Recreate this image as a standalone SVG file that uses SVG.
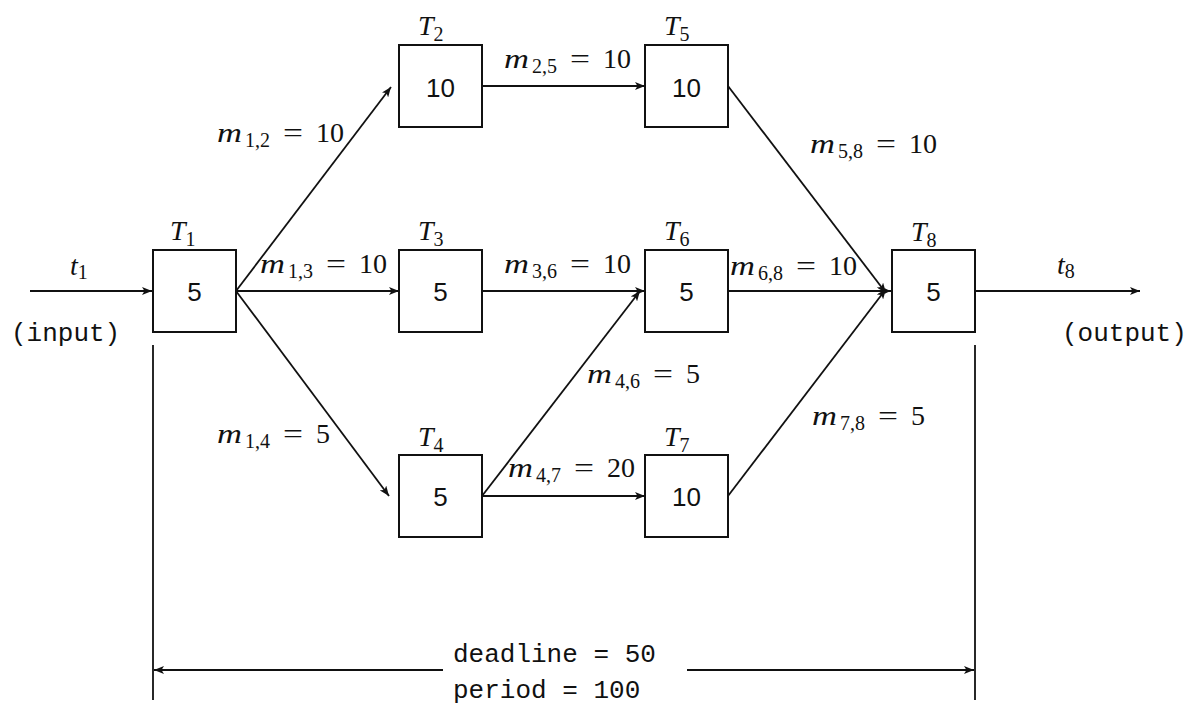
<svg xmlns="http://www.w3.org/2000/svg" width="1196" height="709" viewBox="0 0 1196 709">
<defs>
<marker id="ah" markerUnits="userSpaceOnUse" markerWidth="11" markerHeight="8" refX="10" refY="4" orient="auto">
<path d="M0,0 L10,4 L0,8 L2.5,4 z" fill="#111"/>
</marker>
</defs>
<style>
.box{fill:#fff;stroke:#111;stroke-width:2}
.num{font-family:'Liberation Sans',Arial,sans-serif;font-size:26px;fill:#111;text-anchor:middle}
.mi{font-family:'Liberation Serif','DejaVu Serif',serif;font-style:italic;font-size:28px;fill:#111}
.rm{font-family:'Liberation Serif','DejaVu Serif',serif;font-style:normal;font-size:28px;fill:#111}
.sub{font-family:'Liberation Serif','DejaVu Serif',serif;font-style:normal;font-size:20px;fill:#111}
.tt{font-family:'Liberation Mono','DejaVu Sans Mono',monospace;font-size:26px;fill:#111}
.e{stroke:#111;stroke-width:1.8;fill:none;marker-end:url(#ah)}
.ln{stroke:#111;stroke-width:1.8;fill:none}
</style>
<rect width="1196" height="709" fill="#fff"/>

<g id="connectors">
<line class="e" x1="30" y1="291" x2="152" y2="291"/>
<line class="e" x1="236" y1="291" x2="391" y2="87"/>
<line class="e" x1="236" y1="291" x2="399" y2="291"/>
<line class="e" x1="236" y1="291" x2="389" y2="496"/>
<line class="e" x1="482" y1="86" x2="645" y2="86"/>
<line class="e" x1="482" y1="291" x2="645" y2="291"/>
<line class="e" x1="482" y1="496" x2="640" y2="291"/>
<line class="e" x1="482" y1="496" x2="645" y2="496"/>
<line class="e" x1="728" y1="86" x2="886" y2="293"/>
<line class="e" x1="728" y1="291" x2="891" y2="291"/>
<line class="e" x1="728" y1="496" x2="886" y2="289"/>
<line class="e" x1="975" y1="291" x2="1140" y2="291"/>
</g>

<g id="edge-labels">
<g transform="translate(217,142)"><text class="mi" textLength="25" lengthAdjust="spacingAndGlyphs">m</text><text class="sub" x="28" y="5">1,2</text><text class="rm" x="66" textLength="20" lengthAdjust="spacingAndGlyphs">=</text><text class="rm" x="99">10</text></g>
<g transform="translate(260,273)"><text class="mi" textLength="25" lengthAdjust="spacingAndGlyphs">m</text><text class="sub" x="28" y="5">1,3</text><text class="rm" x="66" textLength="20" lengthAdjust="spacingAndGlyphs">=</text><text class="rm" x="99">10</text></g>
<g transform="translate(217,443)"><text class="mi" textLength="25" lengthAdjust="spacingAndGlyphs">m</text><text class="sub" x="28" y="5">1,4</text><text class="rm" x="66" textLength="20" lengthAdjust="spacingAndGlyphs">=</text><text class="rm" x="99">5</text></g>
<g transform="translate(504,68)"><text class="mi" textLength="25" lengthAdjust="spacingAndGlyphs">m</text><text class="sub" x="28" y="5">2,5</text><text class="rm" x="66" textLength="20" lengthAdjust="spacingAndGlyphs">=</text><text class="rm" x="99">10</text></g>
<g transform="translate(504,273)"><text class="mi" textLength="25" lengthAdjust="spacingAndGlyphs">m</text><text class="sub" x="28" y="5">3,6</text><text class="rm" x="66" textLength="20" lengthAdjust="spacingAndGlyphs">=</text><text class="rm" x="99">10</text></g>
<g transform="translate(587,383)"><text class="mi" textLength="25" lengthAdjust="spacingAndGlyphs">m</text><text class="sub" x="28" y="5">4,6</text><text class="rm" x="66" textLength="20" lengthAdjust="spacingAndGlyphs">=</text><text class="rm" x="99">5</text></g>
<g transform="translate(508,477)"><text class="mi" textLength="25" lengthAdjust="spacingAndGlyphs">m</text><text class="sub" x="28" y="5">4,7</text><text class="rm" x="66" textLength="20" lengthAdjust="spacingAndGlyphs">=</text><text class="rm" x="99">20</text></g>
<g transform="translate(810,153)"><text class="mi" textLength="25" lengthAdjust="spacingAndGlyphs">m</text><text class="sub" x="28" y="5">5,8</text><text class="rm" x="66" textLength="20" lengthAdjust="spacingAndGlyphs">=</text><text class="rm" x="99">10</text></g>
<g transform="translate(730,275)"><text class="mi" textLength="25" lengthAdjust="spacingAndGlyphs">m</text><text class="sub" x="28" y="5">6,8</text><text class="rm" x="66" textLength="20" lengthAdjust="spacingAndGlyphs">=</text><text class="rm" x="99">10</text></g>
<g transform="translate(812,425)"><text class="mi" textLength="25" lengthAdjust="spacingAndGlyphs">m</text><text class="sub" x="28" y="5">7,8</text><text class="rm" x="66" textLength="20" lengthAdjust="spacingAndGlyphs">=</text><text class="rm" x="99">5</text></g>
</g>

<g id="T1"><rect class="box" x="153" y="250" width="83" height="82"/><text class="num" x="194.5" y="301">5</text><text class="mi" x="170" y="240">T<tspan class="sub" dy="6">1</tspan></text></g>
<g id="T2"><rect class="box" x="399" y="45" width="83" height="82"/><text class="num" x="440.5" y="97">10</text><text class="mi" x="418" y="35">T<tspan class="sub" dy="6">2</tspan></text></g>
<g id="T3"><rect class="box" x="399" y="250" width="83" height="82"/><text class="num" x="440.5" y="301">5</text><text class="mi" x="418" y="240">T<tspan class="sub" dy="6">3</tspan></text></g>
<g id="T4"><rect class="box" x="399" y="455" width="83" height="82"/><text class="num" x="440.5" y="506">5</text><text class="mi" x="418" y="446">T<tspan class="sub" dy="6">4</tspan></text></g>
<g id="T5"><rect class="box" x="645" y="45" width="83" height="82"/><text class="num" x="686.5" y="97">10</text><text class="mi" x="664" y="35">T<tspan class="sub" dy="6">5</tspan></text></g>
<g id="T6"><rect class="box" x="645" y="250" width="83" height="82"/><text class="num" x="686.5" y="301">5</text><text class="mi" x="664" y="240">T<tspan class="sub" dy="6">6</tspan></text></g>
<g id="T7"><rect class="box" x="645" y="455" width="83" height="82"/><text class="num" x="686.5" y="506">10</text><text class="mi" x="664" y="446">T<tspan class="sub" dy="6">7</tspan></text></g>
<g id="T8"><rect class="box" x="892" y="250" width="83" height="82"/><text class="num" x="933.5" y="301">5</text><text class="mi" x="911" y="241">T<tspan class="sub" dy="6">8</tspan></text></g>

<g id="io">
<text class="mi" x="70" y="275">t<tspan class="sub" dy="4">1</tspan></text>
<text class="tt" x="11" y="341">(input)</text>
<text class="mi" x="1057" y="274">t<tspan class="sub" dy="4">8</tspan></text>
<text class="tt" x="1062" y="341">(output)</text>
</g>

<g id="timing">
<line class="ln" x1="153" y1="345" x2="153" y2="700"/>
<line class="ln" x1="975" y1="345" x2="975" y2="700"/>
<line class="e" x1="443" y1="670" x2="154" y2="670"/>
<line class="e" x1="687" y1="670" x2="974" y2="670"/>
<text class="tt" x="453" y="662">deadline = 50</text>
<text class="tt" x="453" y="698">period = 100</text>
</g>
</svg>
